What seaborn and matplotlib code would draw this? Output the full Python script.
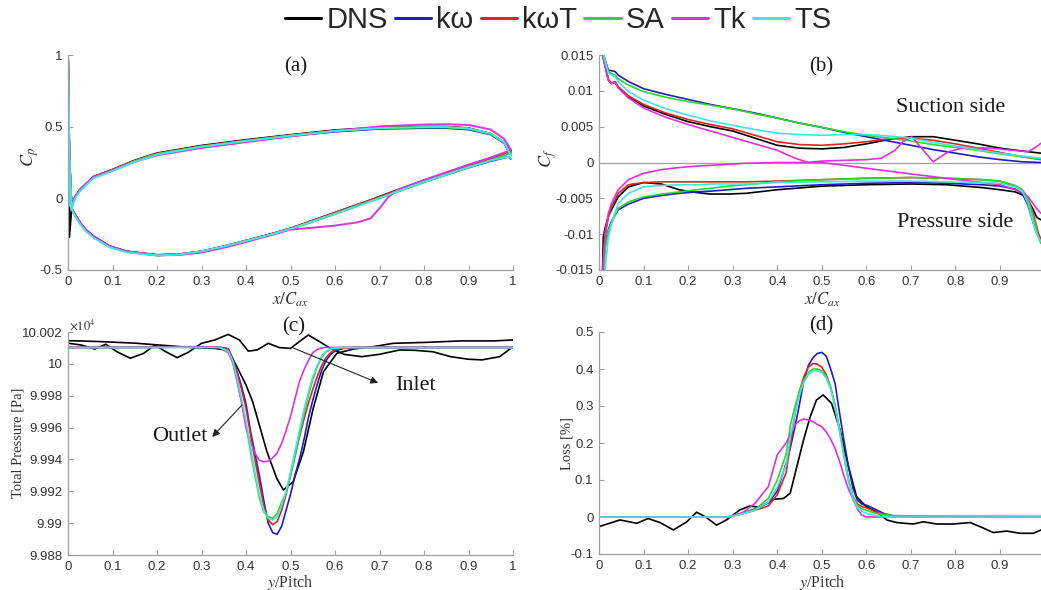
import numpy as np
import pandas as pd
import matplotlib
matplotlib.use("Agg")
import matplotlib.pyplot as plt
import seaborn as sns
from matplotlib.ticker import FuncFormatter
from matplotlib.lines import Line2D

MODELS = ["DNS", "kω", "kωT", "SA", "Tk", "TS"]
COLORS = ["#000000", "#1f1fbf", "#e32222", "#2fd62f", "#dd33dd", "#44e4e4"]

# ---------------- (a) Cp ----------------
A_X_UP = [0, 0.003, 0.008, 0.016, 0.027, 0.057, 0.1, 0.15, 0.2, 0.3, 0.4, 0.5, 0.6, 0.7, 0.8, 0.85, 0.9, 0.95, 0.98, 0.995]
A_DNS_UP = [1.0, 0.3, -0.06, 0.01, 0.06, 0.15, 0.2, 0.265, 0.315, 0.368, 0.408, 0.443, 0.476, 0.495, 0.50, 0.50, 0.49, 0.45, 0.39, 0.33]
A_KW_UP = [1.0, 0.3, -0.06, 0.01, 0.06, 0.148, 0.197, 0.26, 0.31, 0.36, 0.4, 0.435, 0.465, 0.485, 0.49, 0.49, 0.48, 0.445, 0.385, 0.30]
A_KWT_UP = [1.0, 0.3, -0.06, 0.01, 0.06, 0.15, 0.2, 0.263, 0.312, 0.364, 0.404, 0.44, 0.472, 0.492, 0.498, 0.498, 0.488, 0.45, 0.39, 0.32]
A_SA_UP = [1.0, 0.3, -0.06, 0.005, 0.055, 0.145, 0.195, 0.26, 0.31, 0.362, 0.402, 0.438, 0.47, 0.49, 0.495, 0.495, 0.485, 0.448, 0.39, 0.31]
A_TK_UP = [1.0, 0.3, -0.06, 0.01, 0.06, 0.148, 0.195, 0.255, 0.30, 0.352, 0.392, 0.432, 0.47, 0.502, 0.515, 0.517, 0.512, 0.48, 0.415, 0.34]
A_TS_UP = [1.0, 0.3, -0.07, 0.0, 0.05, 0.14, 0.19, 0.255, 0.305, 0.36, 0.40, 0.437, 0.47, 0.49, 0.497, 0.497, 0.488, 0.452, 0.392, 0.30]

A_X_LO = [0, 0.003, 0.008, 0.015, 0.027, 0.04, 0.057, 0.094, 0.132, 0.2, 0.25, 0.3, 0.35, 0.4, 0.45, 0.5, 0.55, 0.6, 0.65, 0.68, 0.7, 0.72, 0.74, 0.8, 0.9, 0.95, 0.99, 0.995]
A_DNS_LO = [1.0, -0.27, -0.07, -0.11, -0.17, -0.22, -0.265, -0.335, -0.37, -0.395, -0.39, -0.37, -0.335, -0.295, -0.255, -0.21, -0.155, -0.10, -0.045, -0.012, 0.012, 0.035, 0.058, 0.125, 0.23, 0.28, 0.325, 0.335]
A_KW_LO = [1.0, -0.03, -0.07, -0.11, -0.17, -0.22, -0.265, -0.335, -0.372, -0.397, -0.392, -0.372, -0.337, -0.297, -0.255, -0.212, -0.16, -0.105, -0.05, -0.017, 0.005, 0.028, 0.05, 0.115, 0.215, 0.26, 0.29, 0.275]
A_KWT_LO = [1.0, -0.03, -0.07, -0.11, -0.17, -0.22, -0.265, -0.335, -0.37, -0.395, -0.39, -0.37, -0.335, -0.295, -0.255, -0.21, -0.155, -0.10, -0.045, -0.013, 0.01, 0.033, 0.055, 0.122, 0.228, 0.278, 0.32, 0.33]
A_SA_LO = [1.0, -0.03, -0.075, -0.115, -0.175, -0.225, -0.27, -0.34, -0.375, -0.398, -0.392, -0.372, -0.337, -0.298, -0.258, -0.215, -0.163, -0.11, -0.055, -0.022, 0.0, 0.022, 0.045, 0.112, 0.215, 0.265, 0.31, 0.32]
A_TK_LO = [1.0, -0.03, -0.07, -0.11, -0.17, -0.22, -0.265, -0.335, -0.372, -0.398, -0.395, -0.378, -0.345, -0.305, -0.262, -0.218, -0.205, -0.19, -0.168, -0.14, -0.07, 0.01, 0.058, 0.128, 0.235, 0.285, 0.33, 0.34]
A_TS_LO = [1.0, -0.03, -0.075, -0.12, -0.18, -0.23, -0.275, -0.342, -0.377, -0.398, -0.392, -0.37, -0.336, -0.297, -0.257, -0.213, -0.16, -0.107, -0.052, -0.02, 0.002, 0.025, 0.048, 0.115, 0.218, 0.265, 0.29, 0.28]

# ---------------- (b) Cf ----------------
B_X_SS = [0.004, 0.01, 0.021, 0.028, 0.036, 0.043, 0.066, 0.1, 0.15, 0.2, 0.25, 0.3, 0.35, 0.4, 0.45, 0.5, 0.55, 0.6, 0.65, 0.7, 0.75, 0.8, 0.85, 0.9, 0.95, 0.992]
B_DNS_SS = [0.02, 0.0145, 0.0115, 0.011, 0.0112, 0.0105, 0.0092, 0.0079, 0.0067, 0.0057, 0.005, 0.0044, 0.0034, 0.0024, 0.002, 0.0019, 0.0021, 0.0026, 0.0032, 0.0036, 0.0036, 0.0031, 0.0026, 0.002, 0.0016, 0.0013]
B_KW_SS = [0.02, 0.015, 0.0129, 0.0128, 0.0127, 0.0122, 0.0113, 0.0103, 0.0095, 0.0088, 0.0081, 0.0075, 0.0069, 0.0062, 0.0055, 0.0049, 0.0042, 0.0036, 0.003, 0.0024, 0.0018, 0.0013, 0.0008, 0.0004, 0.0001, 0.0]
B_KWT_SS = [0.02, 0.0145, 0.0116, 0.0111, 0.0113, 0.0106, 0.0093, 0.0081, 0.0069, 0.006, 0.0053, 0.0047, 0.0038, 0.0029, 0.0025, 0.0024, 0.0026, 0.0029, 0.0033, 0.0034, 0.0031, 0.0026, 0.002, 0.0014, 0.0008, 0.0004]
B_SA_SS = [0.02, 0.015, 0.0127, 0.0124, 0.0122, 0.0117, 0.0108, 0.0099, 0.0091, 0.0085, 0.008, 0.0075, 0.0068, 0.0062, 0.0055, 0.0049, 0.0043, 0.0038, 0.0034, 0.003, 0.0025, 0.0021, 0.0017, 0.0012, 0.0008, 0.0005]
B_TS_SS = [0.02, 0.015, 0.0125, 0.0122, 0.012, 0.0113, 0.0099, 0.0087, 0.0075, 0.0066, 0.0058, 0.0052, 0.0046, 0.0041, 0.0039, 0.0038, 0.0039, 0.0039, 0.0037, 0.0034, 0.0028, 0.0023, 0.0018, 0.0013, 0.0009, 0.0006]
B_X_TK_SS = [0.004, 0.01, 0.021, 0.028, 0.036, 0.043, 0.066, 0.1, 0.15, 0.2, 0.25, 0.3, 0.35, 0.4, 0.44, 0.47, 0.5, 0.55, 0.6, 0.634, 0.664, 0.682, 0.702, 0.75, 0.784, 0.821, 0.88, 0.963, 0.982, 0.992]
B_TK_SS = [0.02, 0.0145, 0.0115, 0.011, 0.0112, 0.0104, 0.009, 0.0076, 0.0063, 0.0053, 0.0044, 0.0035, 0.0026, 0.0017, 0.0006, 0.0, 0.0002, 0.0003, 0.0004, 0.0006, 0.0017, 0.0029, 0.0036, 0.0001, 0.0015, 0.0021, 0.002, 0.0015, 0.0022, 0.0027]

B_X_PS = [0.006, 0.0097, 0.0135, 0.021, 0.028, 0.043, 0.066, 0.1, 0.14, 0.18, 0.22, 0.25, 0.29, 0.33, 0.4, 0.5, 0.6, 0.7, 0.78, 0.86, 0.9, 0.934, 0.95, 0.963, 0.975, 0.982, 0.986, 0.992]
B_DNS_PS = [-0.02, -0.0104, -0.0092, -0.0075, -0.0066, -0.0048, -0.0034, -0.0028, -0.003, -0.0038, -0.0042, -0.0044, -0.0044, -0.0043, -0.0038, -0.0033, -0.0031, -0.003, -0.0031, -0.0035, -0.0038, -0.0041, -0.0045, -0.0053, -0.0066, -0.0076, -0.0078, -0.008]
B_KW_PS = [-0.02, -0.015, -0.0115, -0.0094, -0.0082, -0.0066, -0.0058, -0.005, -0.0046, -0.0043, -0.0041, -0.004, -0.0038, -0.0036, -0.0034, -0.0031, -0.0029, -0.0028, -0.0029, -0.0031, -0.0033, -0.0037, -0.0043, -0.006, -0.0085, -0.0098, -0.0103, -0.0107]
B_KWT_PS = [-0.02, -0.0131, -0.0105, -0.0076, -0.0062, -0.0043, -0.0031, -0.0028, -0.0027, -0.0027, -0.0027, -0.0027, -0.0027, -0.0027, -0.0026, -0.0024, -0.0022, -0.0021, -0.0022, -0.0024, -0.0026, -0.0033, -0.0038, -0.005, -0.0072, -0.0088, -0.0098, -0.0108]
B_SA_PS = [-0.02, -0.017, -0.0122, -0.0095, -0.0085, -0.0064, -0.0055, -0.0048, -0.0044, -0.0041, -0.0038, -0.0036, -0.0033, -0.0031, -0.0027, -0.0024, -0.0022, -0.0021, -0.0022, -0.0024, -0.0026, -0.0032, -0.0038, -0.0052, -0.0076, -0.0092, -0.0104, -0.0113]
B_TK_PS = [-0.02, -0.014, -0.0099, -0.0071, -0.0057, -0.0038, -0.0024, -0.0015, -0.001, -0.0007, -0.0005, -0.0004, -0.00025, -0.0001, 0.0, 0.0, -0.0008, -0.0016, -0.0022, -0.0028, -0.0031, -0.0038, -0.0042, -0.0048, -0.0058, -0.0064, -0.0067, -0.0071]
B_TS_PS = [-0.02, -0.018, -0.015, -0.0105, -0.0085, -0.0057, -0.0043, -0.0034, -0.0032, -0.0031, -0.0031, -0.003, -0.003, -0.003, -0.0028, -0.0027, -0.0026, -0.0026, -0.0027, -0.0028, -0.0029, -0.0034, -0.004, -0.0057, -0.0085, -0.0098, -0.0104, -0.011]

# ---------------- (c) Total pressure [Pa] ----------------
C_X = [0, 0.1, 0.2, 0.3, 0.34, 0.36, 0.37, 0.38, 0.39, 0.40, 0.41, 0.42, 0.43, 0.44, 0.45, 0.46, 0.47, 0.48, 0.49, 0.50, 0.51, 0.52, 0.53, 0.54, 0.55, 0.56, 0.57, 0.58, 0.59, 0.60, 0.62, 0.65, 0.7, 0.8, 0.9, 1.0]
C_KW = [100010.3, 100010.3, 100010.4, 100010.6, 100010.5, 100009.5, 100003.5, 99995, 99986, 99975, 99958, 99944, 99930, 99914, 99900, 99894, 99893, 99898, 99908, 99918, 99930, 99940, 99952, 99966, 99977, 99987, 99996, 100002, 100006, 100008, 100009.8, 100010.3, 100010.3, 100010.3, 100010.3, 100010.3]
C_KWT = [100010.3, 100010.3, 100010.4, 100010.6, 100010.5, 100009.3, 100003, 99994, 99984, 99972, 99956, 99940, 99925, 99911, 99902, 99899, 99901, 99908, 99918, 99930, 99942, 99954, 99965, 99975, 99984, 99992, 99999, 100004, 100007, 100009, 100010, 100010.3, 100010.3, 100010.3, 100010.3, 100010.3]
C_SA = [100010.3, 100010.4, 100010.5, 100010.8, 100010.6, 100008, 100001, 99990, 99976, 99962, 99945, 99930, 99916, 99907, 99904, 99903, 99906, 99913, 99919, 99930, 99942, 99955, 99968, 99980, 99990, 99998, 100004, 100007.6, 100009, 100010, 100010.3, 100010.3, 100010.3, 100010.3, 100010.3, 100010.3]
C_TK = [100010.3, 100010.3, 100010.4, 100010.6, 100010.5, 100007, 100001, 99989, 99976, 99960, 99951, 99944, 99939.5, 99938.5, 99939, 99941, 99944, 99950, 99958, 99967, 99978, 99988.8, 99996, 100002, 100007, 100009, 100010, 100010.3, 100010.3, 100010.3, 100010.3, 100010.3, 100010.3, 100010.3, 100010.3, 100010.3]
C_TS = [100010.2, 100010.2, 100010.2, 100010.2, 100010.2, 100008, 100002, 99991, 99978, 99964, 99948, 99932, 99918, 99908, 99903, 99902, 99904, 99911, 99920, 99932, 99945, 99958, 99971, 99982, 99992, 99999, 100005, 100008, 100009.5, 100010, 100010.2, 100010.2, 100010.2, 100010.2, 100010.2, 100010.2]
C_X_DNS_OUT = [0, 0.07, 0.15, 0.22, 0.28, 0.33, 0.36, 0.38, 0.40, 0.415, 0.43, 0.447, 0.469, 0.484, 0.506, 0.529, 0.551, 0.574, 0.604, 0.641, 0.686, 0.731, 0.806, 0.881, 0.956, 1.0]
C_DNS_OUT = [100014.6, 100014, 100013, 100011.5, 100010.2, 100009.7, 100008.5, 99998, 99986.7, 99976.2, 99961.6, 99944.9, 99928.2, 99920.8, 99926, 99944.9, 99972, 99995, 100006.6, 100009.3, 100010.8, 100012.9, 100013.5, 100014.4, 100014.4, 100015]
C_X_DNS_IN = [0, 0.03, 0.06, 0.085, 0.11, 0.14, 0.17, 0.195, 0.22, 0.245, 0.27, 0.30, 0.33, 0.36, 0.385, 0.405, 0.425, 0.45, 0.475, 0.50, 0.52, 0.54, 0.565, 0.59, 0.62, 0.66, 0.70, 0.745, 0.78, 0.82, 0.86, 0.90, 0.93, 0.97, 1.0]
C_DNS_IN = [100013, 100011.8, 100009.3, 100012.3, 100007.6, 100003.5, 100006.6, 100011.8, 100007.6, 100003.9, 100007.2, 100012.9, 100015, 100018.5, 100015, 100008, 100008.7, 100012.9, 100010.2, 100009.7, 100014, 100018.1, 100014, 100009.7, 100006, 100004.5, 100006, 100008.7, 100008.5, 100007.6, 100004.5, 100002.9, 100002.5, 100004.5, 100010.8]

# ---------------- (d) Loss [%] ----------------
D_X = [0, 0.29, 0.32, 0.35, 0.38, 0.40, 0.42, 0.43, 0.44, 0.45, 0.46, 0.47, 0.48, 0.49, 0.50, 0.51, 0.52, 0.53, 0.54, 0.55, 0.56, 0.57, 0.58, 0.59, 0.60, 0.62, 0.64, 0.66, 0.70, 1.0]
D_KW = [0, 0, 0.01, 0.022, 0.038, 0.07, 0.145, 0.19, 0.245, 0.305, 0.37, 0.41, 0.43, 0.442, 0.445, 0.435, 0.40, 0.36, 0.28, 0.205, 0.135, 0.078, 0.045, 0.035, 0.032, 0.021, 0.009, 0.003, 0.0, 0.0]
D_KWT = [0, 0, 0.008, 0.018, 0.03, 0.06, 0.12, 0.2, 0.28, 0.34, 0.38, 0.405, 0.415, 0.413, 0.405, 0.385, 0.35, 0.3, 0.235, 0.165, 0.1, 0.055, 0.035, 0.028, 0.025, 0.014, 0.007, 0.003, 0.0, 0.0]
D_SA = [0, 0, 0.01, 0.02, 0.05, 0.1, 0.17, 0.25, 0.30, 0.34, 0.37, 0.39, 0.40, 0.40, 0.395, 0.38, 0.35, 0.30, 0.235, 0.165, 0.1, 0.055, 0.03, 0.022, 0.018, 0.01, 0.006, 0.004, 0.003, 0.002]
D_TK = [0, 0, 0.01, 0.037, 0.082, 0.168, 0.20, 0.225, 0.25, 0.26, 0.265, 0.262, 0.258, 0.25, 0.244, 0.23, 0.21, 0.185, 0.15, 0.11, 0.075, 0.048, 0.022, 0.005, 0.0, 0.0, 0.0, 0.0, 0.0, 0.0]
D_TS = [0, 0, 0.008, 0.018, 0.04, 0.08, 0.14, 0.22, 0.28, 0.33, 0.365, 0.385, 0.395, 0.395, 0.39, 0.375, 0.345, 0.295, 0.23, 0.16, 0.095, 0.05, 0.025, 0.015, 0.01, 0.004, 0.001, 0.0, 0.0, 0.0]
D_X_DNS = [0, 0.047, 0.085, 0.11, 0.137, 0.167, 0.197, 0.219, 0.238, 0.264, 0.286, 0.316, 0.339, 0.361, 0.391, 0.414, 0.429, 0.444, 0.459, 0.474, 0.488, 0.503, 0.522, 0.541, 0.56, 0.578, 0.6, 0.623, 0.646, 0.668, 0.705, 0.728, 0.758, 0.795, 0.833, 0.855, 0.885, 0.915, 0.945, 0.975, 0.992]
D_DNS = [-0.026, -0.008, -0.017, -0.004, -0.015, -0.035, -0.013, 0.013, 0.001, -0.022, -0.008, 0.019, 0.03, 0.026, 0.048, 0.05, 0.064, 0.136, 0.208, 0.271, 0.316, 0.33, 0.307, 0.235, 0.136, 0.055, 0.028, 0.014, -0.008, -0.015, -0.019, -0.013, -0.019, -0.019, -0.015, -0.026, -0.042, -0.038, -0.044, -0.044, -0.035]


def frame(rows):
    parts = []
    for model, part, xs, ys in rows:
        if len(xs) != len(ys):
            raise ValueError(f"length mismatch {model} {part}: {len(xs)} vs {len(ys)}")
        parts.append(pd.DataFrame({"x": xs, "y": ys, "model": model, "part": part}))
    return pd.concat(parts, ignore_index=True)


df_a = frame([
    ("DNS", "up", A_X_UP, A_DNS_UP), ("DNS", "lo", A_X_LO, A_DNS_LO),
    ("kω", "up", A_X_UP, A_KW_UP), ("kω", "lo", A_X_LO, A_KW_LO),
    ("kωT", "up", A_X_UP, A_KWT_UP), ("kωT", "lo", A_X_LO, A_KWT_LO),
    ("SA", "up", A_X_UP, A_SA_UP), ("SA", "lo", A_X_LO, A_SA_LO),
    ("Tk", "up", A_X_UP, A_TK_UP), ("Tk", "lo", A_X_LO, A_TK_LO),
    ("TS", "up", A_X_UP, A_TS_UP), ("TS", "lo", A_X_LO, A_TS_LO),
])
df_b = frame([
    ("DNS", "ss", B_X_SS, B_DNS_SS), ("DNS", "ps", B_X_PS, B_DNS_PS),
    ("kω", "ss", B_X_SS, B_KW_SS), ("kω", "ps", B_X_PS, B_KW_PS),
    ("kωT", "ss", B_X_SS, B_KWT_SS), ("kωT", "ps", B_X_PS, B_KWT_PS),
    ("SA", "ss", B_X_SS, B_SA_SS), ("SA", "ps", B_X_PS, B_SA_PS),
    ("Tk", "ss", B_X_TK_SS, B_TK_SS), ("Tk", "ps", B_X_PS, B_TK_PS),
    ("TS", "ss", B_X_SS, B_TS_SS), ("TS", "ps", B_X_PS, B_TS_PS),
])
df_c = frame([
    ("DNS", "in", C_X_DNS_IN, C_DNS_IN), ("DNS", "out", C_X_DNS_OUT, C_DNS_OUT),
    ("kω", "out", C_X, C_KW), ("kωT", "out", C_X, C_KWT), ("SA", "out", C_X, C_SA),
    ("Tk", "out", C_X, C_TK), ("TS", "out", C_X, C_TS),
])
df_c["y"] = df_c["y"] / 1e4
df_d = frame([
    ("DNS", "d", D_X_DNS, D_DNS), ("kω", "d", D_X, D_KW), ("kωT", "d", D_X, D_KWT),
    ("SA", "d", D_X, D_SA), ("Tk", "d", D_X, D_TK), ("TS", "d", D_X, D_TS),
])

sns.set_theme(style="ticks")
plt.rcParams["font.family"] = ["Liberation Sans", "DejaVu Sans"]
plt.rcParams["mathtext.fontset"] = "stix"

W, H = 1041, 590
fig = plt.figure(figsize=(W / 100, H / 100), dpi=100)


def add_axes(l, t, r, b):
    return fig.add_axes([l / W, 1 - b / H, (r - l) / W, (b - t) / H])


def ftext(px, py, s, **kw):
    fig.text(px / W, 1 - py / H, s, **kw)


ax_a = add_axes(68, 55, 513, 270)
ax_b = add_axes(599, 55, 1041, 270)
ax_c = add_axes(68, 332, 513, 555)
ax_d = add_axes(599, 332, 1041, 554)

palette = dict(zip(MODELS, COLORS))
for ax, df, lw in [(ax_a, df_a, 1.4), (ax_b, df_b, 1.2), (ax_c, df_c, 1.2), (ax_d, df_d, 1.2)]:
    sns.lineplot(data=df, x="x", y="y", hue="model", hue_order=MODELS, units="part",
                 estimator=None, sort=False, palette=palette, linewidth=lw,
                 legend=False, ax=ax)

ax_b.axhline(0, color="#a0a0a0", lw=0.9, zorder=0)

fmt = FuncFormatter(lambda v, p: f"{round(v, 4) + 0.0:g}")
GRAY = "#a0a0a0"


def style(ax, xlim, ylim, xticks, yticks):
    ax.set_xlim(*xlim)
    ax.set_ylim(*ylim)
    ax.set_xticks(xticks)
    ax.set_yticks(yticks)
    ax.xaxis.set_major_formatter(fmt)
    ax.yaxis.set_major_formatter(fmt)
    for s in ["top", "right"]:
        ax.spines[s].set_visible(False)
    for s in ["left", "bottom"]:
        ax.spines[s].set_color(GRAY)
        ax.spines[s].set_linewidth(0.9)
    ax.tick_params(direction="in", length=3.5, width=0.8, color=GRAY,
                   labelsize=9.5, labelcolor="#333333", pad=4)
    ax.set_xlabel("")
    ax.set_ylabel("")
    ax.set_facecolor("white")


xt = [0, 0.1, 0.2, 0.3, 0.4, 0.5, 0.6, 0.7, 0.8, 0.9, 1.0]
style(ax_a, (0, 1), (-0.5, 1), xt, [-0.5, 0, 0.5, 1])
style(ax_b, (0, 0.992), (-0.015, 0.015), xt[:-1], [-0.015, -0.01, -0.005, 0, 0.005, 0.01, 0.015])
style(ax_c, (0, 1), (9.988, 10.002), xt, [9.988, 9.99, 9.992, 9.994, 9.996, 9.998, 10.0, 10.002])
style(ax_d, (0, 0.992), (-0.1, 0.5), xt[:-1], [-0.1, 0, 0.1, 0.2, 0.3, 0.4, 0.5])

serif = ["Liberation Serif", "DejaVu Serif"]
tc = "#1a1a1a"
# panel titles
for px, py, s in [(296, 67, "(a)"), (821, 67, "(b)"), (294, 327, "(c)"), (821, 326, "(d)")]:
    ftext(px, py, s, family=serif, size=15, ha="center", va="center", color=tc)

# axis labels
lc = "#333333"
ftext(30, 157, "$C_p$", size=13, rotation=90, ha="center", va="center", color=lc)
ftext(548, 158, "$C_f$", size=13, rotation=90, ha="center", va="center", color=lc)
ftext(290, 300, "$x/C_{ax}$", size=12, ha="center", va="center", color=lc)
ftext(822, 300, "$x/C_{ax}$", size=12, ha="center", va="center", color=lc)
ftext(18, 443, "Total Pressure [Pa]", family=serif, size=10.5, rotation=90, ha="center", va="center", color=lc)
ftext(567, 443, "Loss [%]", family=serif, size=10.5, rotation=90, ha="center", va="center", color=lc)
ftext(290, 582, "$y$/Pitch", family=serif, size=11.5, ha="center", va="center", color=lc)
ftext(822, 582, "$y$/Pitch", family=serif, size=11.5, ha="center", va="center", color=lc)
ftext(69, 325, r"$\times10^4$", size=9, ha="left", va="center", color=lc)

# annotations
ftext(951, 108, "Suction side", family=serif, size=16, ha="center", va="center", color=tc)
ftext(955, 222, "Pressure side", family=serif, size=16, ha="center", va="center", color=tc)
ax_c.text(0.78, 9.99867, "Inlet", family=serif, size=16, ha="center", va="center", color=tc)
ax_c.text(0.252, 9.99541, "Outlet", family=serif, size=16, ha="center", va="center", color=tc)
arrow = dict(arrowstyle="-|>", color="#222222", lw=0.8, mutation_scale=11, shrinkA=0, shrinkB=0)
ax_c.annotate("", xy=(0.697, 9.9988), xytext=(0.506, 10.0010), arrowprops=arrow)
ax_c.annotate("", xy=(0.324, 9.99541), xytext=(0.391, 9.99742), arrowprops=arrow)

# legend
handles = [Line2D([0], [0], color=c, lw=2.2) for c in COLORS]
fig.legend(handles, MODELS, loc="center", bbox_to_anchor=(558 / W, 1 - 20 / H), ncol=6,
           frameon=False, prop={"family": ["Liberation Sans", "DejaVu Sans"], "size": 21},
           handlelength=1.26, handletextpad=0.17, columnspacing=0.24, borderaxespad=0)

fig.savefig("out.png", dpi=100, facecolor="white")
